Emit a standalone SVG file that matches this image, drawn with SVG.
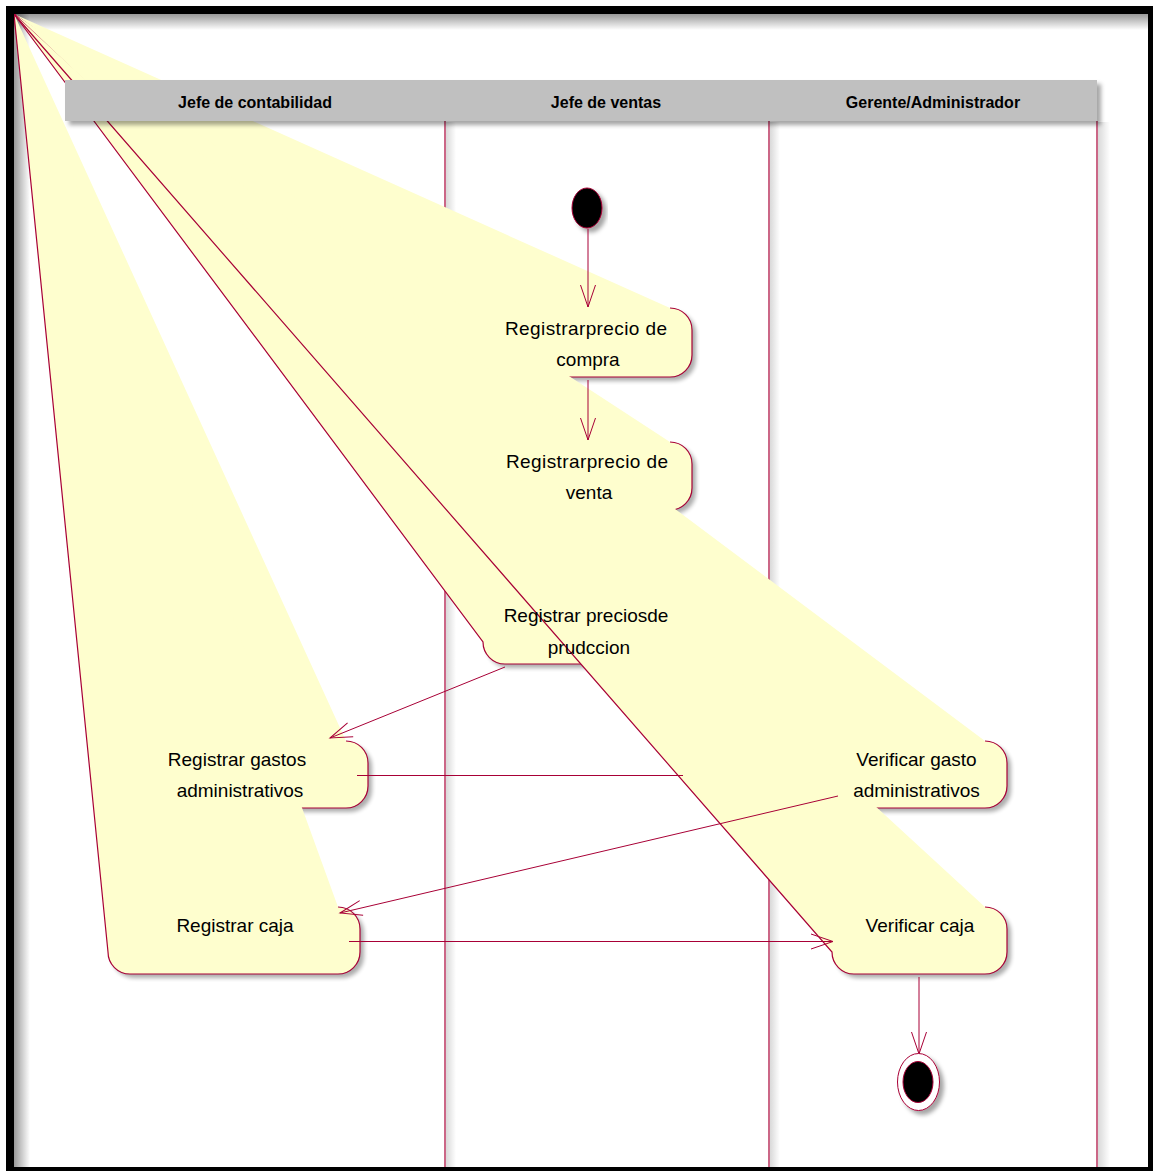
<svg xmlns="http://www.w3.org/2000/svg" width="1153" height="1171" viewBox="0 0 1153 1171">
  <defs>
    <style>
      .act { fill: #FEFECE; stroke: none; }
      .shade { fill: #000; opacity: 0.32; filter: url(#blur); }
      .edge { fill: none; stroke: #A80036; stroke-width: 1.2; }
      .lane { stroke: #A80036; stroke-width: 1.2; }
      .link { fill: none; stroke: #A80036; stroke-width: 1; }
      .label { font-family: "Liberation Sans", Arial, sans-serif; font-size: 19px; fill: #000; text-anchor: middle; }
      .head { font-family: "Liberation Sans", Arial, sans-serif; font-size: 16px; font-weight: bold; fill: #000; text-anchor: middle; }
    </style>
    <filter id="blur" x="-10%" y="-10%" width="120%" height="120%">
      <feGaussianBlur stdDeviation="2"/>
    </filter>
    <filter id="shadow" x="-10%" y="-10%" width="130%" height="140%">
      <feGaussianBlur in="SourceAlpha" stdDeviation="2"/>
      <feOffset dx="4" dy="4" result="off"/>
      <feFlood flood-color="#000" flood-opacity="0.35"/>
      <feComposite in2="off" operator="in"/>
      <feMerge>
        <feMergeNode/>
        <feMergeNode in="SourceGraphic"/>
      </feMerge>
    </filter>
    <linearGradient id="fadeRight" x1="0" y1="0" x2="1" y2="0">
      <stop offset="0" stop-color="#000" stop-opacity="0.4"/>
      <stop offset="1" stop-color="#000" stop-opacity="0"/>
    </linearGradient>
    <linearGradient id="fadeDown" x1="0" y1="0" x2="0" y2="1">
      <stop offset="0" stop-color="#000" stop-opacity="0.4"/>
      <stop offset="1" stop-color="#000" stop-opacity="0"/>
    </linearGradient>
    <linearGradient id="laneShade" x1="0" y1="0" x2="1" y2="0">
      <stop offset="0" stop-color="#000" stop-opacity="0.15"/>
      <stop offset="1" stop-color="#000" stop-opacity="0"/>
    </linearGradient>
    <marker id="arrow" markerUnits="userSpaceOnUse" markerWidth="26" markerHeight="18" viewBox="-24 -9 26 18" refX="0" refY="0" orient="auto">
      <path d="M-22,-7.5 L0,0 L-22,7.5" fill="none" stroke="#A80036" stroke-width="1"/>
    </marker>
  </defs>

  <rect width="1153" height="1171" fill="#fff"/>

  <!-- inner shading of the frame -->
  <rect x="14" y="14" width="16" height="1153" fill="url(#fadeRight)"/>
  <rect x="14" y="14" width="1134" height="16" fill="url(#fadeDown)"/>

  <!-- lane separators -->
  <g id="lane-lines">
    <rect x="446" y="122" width="10" height="1045" fill="url(#laneShade)"/>
    <rect x="770" y="122" width="10" height="1045" fill="url(#laneShade)"/>
    <rect x="1098" y="122" width="12" height="1045" fill="url(#laneShade)"/>
    <line class="lane" x1="445" y1="121" x2="445" y2="1167"/>
    <line class="lane" x1="769" y1="121" x2="769" y2="1167"/>
    <line class="lane" x1="1097" y1="121" x2="1097" y2="1167"/>
  </g>

  <!-- initial state -->
  <g id="start">
    <ellipse cx="587" cy="208" rx="15" ry="20" fill="#000" stroke="#A80036" stroke-width="1" filter="url(#shadow)"/>
  </g>

  <!-- activities: shadow, body, outline -->
  <g id="act-precio-compra">
    <path class="shade" transform="translate(4,4)" d="M670,308 A22,22 0 0 1 692,330 L692,355 A22,22 0 0 1 670,377 L504,377 A22,22 0 0 1 482,355 Z"/>
    <path class="act" d="M14,14 L670,308 A22,22 0 0 1 692,330 L692,355 A22,22 0 0 1 670,377 L504,377 A22,22 0 0 1 482,355 Z"/>
    <path class="edge" d="M14,14 L482,355 A22,22 0 0 0 504,377 L670,377 A22,22 0 0 0 692,355 L692,330 A22,22 0 0 0 670,308"/>
  </g>
  <g id="act-precio-venta">
    <path class="shade" transform="translate(4,4)" d="M670,442 A22,22 0 0 1 692,464 L692,488 A22,22 0 0 1 670,510 L504,510 A22,22 0 0 1 482,488 Z"/>
    <path class="act" d="M14,14 L670,442 A22,22 0 0 1 692,464 L692,488 A22,22 0 0 1 670,510 L504,510 A22,22 0 0 1 482,488 Z"/>
    <path class="edge" d="M14,14 L482,488 A22,22 0 0 0 504,510 L670,510 A22,22 0 0 0 692,488 L692,464 A22,22 0 0 0 670,442"/>
  </g>
  <g id="act-precios-produccion">
    <path class="shade" transform="translate(4,4)" d="M670,596 A22,22 0 0 1 692,618 L692,642 A22,22 0 0 1 670,664 L505,664 A22,22 0 0 1 483,642 Z"/>
    <path class="act" d="M14,14 L670,596 A22,22 0 0 1 692,618 L692,642 A22,22 0 0 1 670,664 L505,664 A22,22 0 0 1 483,642 Z"/>
    <path class="edge" d="M14,14 L483,642 A22,22 0 0 0 505,664 L670,664 A22,22 0 0 0 692,642 L692,618 A22,22 0 0 0 670,596"/>
  </g>
  <g id="act-gastos-admin">
    <path class="shade" transform="translate(4,4)" d="M346,741 A22,22 0 0 1 368,763 L368,786 A22,22 0 0 1 346,808 L130,808 A22,22 0 0 1 108,786 Z"/>
    <path class="act" d="M14,14 L346,741 A22,22 0 0 1 368,763 L368,786 A22,22 0 0 1 346,808 L130,808 A22,22 0 0 1 108,786 Z"/>
    <path class="edge" d="M14,14 L108,786 A22,22 0 0 0 130,808 L346,808 A22,22 0 0 0 368,786 L368,763 A22,22 0 0 0 346,741"/>
  </g>
  <g id="act-verificar-gasto">
    <path class="shade" transform="translate(4,4)" d="M985,741 A22,22 0 0 1 1007,763 L1007,786 A22,22 0 0 1 985,808 L852,808 A22,22 0 0 1 830,786 Z"/>
    <path class="act" d="M14,14 L985,741 A22,22 0 0 1 1007,763 L1007,786 A22,22 0 0 1 985,808 L852,808 A22,22 0 0 1 830,786 Z"/>
    <path class="edge" d="M14,14 L830,786 A22,22 0 0 0 852,808 L985,808 A22,22 0 0 0 1007,786 L1007,763 A22,22 0 0 0 985,741"/>
  </g>
  <g id="act-registrar-caja">
    <path class="shade" transform="translate(4,4)" d="M338,907 A22,22 0 0 1 360,929 L360,952 A22,22 0 0 1 338,974 L130,974 A22,22 0 0 1 108,952 Z"/>
    <path class="act" d="M14,14 L338,907 A22,22 0 0 1 360,929 L360,952 A22,22 0 0 1 338,974 L130,974 A22,22 0 0 1 108,952 Z"/>
    <path class="edge" d="M14,14 L108,952 A22,22 0 0 0 130,974 L338,974 A22,22 0 0 0 360,952 L360,929 A22,22 0 0 0 338,907"/>
  </g>
  <g id="act-verificar-caja">
    <path class="shade" transform="translate(4,4)" d="M985,907 A22,22 0 0 1 1007,929 L1007,952 A22,22 0 0 1 985,974 L854,974 A22,22 0 0 1 832,952 Z"/>
    <path class="act" d="M14,14 L985,907 A22,22 0 0 1 1007,929 L1007,952 A22,22 0 0 1 985,974 L854,974 A22,22 0 0 1 832,952 Z"/>
    <path class="edge" d="M14,14 L832,952 A22,22 0 0 0 854,974 L985,974 A22,22 0 0 0 1007,952 L1007,929 A22,22 0 0 0 985,907"/>
  </g>

  <!-- transitions -->
  <g id="connectors">
    <line class="link" x1="588" y1="229" x2="588" y2="307" marker-end="url(#arrow)"/>
    <line class="link" x1="588" y1="380" x2="588" y2="440" marker-end="url(#arrow)"/>
    <line class="link" x1="505" y1="667" x2="330" y2="738" marker-end="url(#arrow)"/>
    <line class="link" x1="357" y1="775.5" x2="683" y2="775.5"/>
    <line class="link" x1="838" y1="796" x2="340" y2="913" marker-end="url(#arrow)"/>
    <line class="link" x1="349" y1="941.5" x2="833" y2="941.5" marker-end="url(#arrow)"/>
    <line class="link" x1="919" y1="977" x2="919" y2="1054" marker-end="url(#arrow)"/>
  </g>

  <!-- lane headers -->
  <g id="lane-header">
    <rect x="65" y="80" width="1032" height="41" fill="#C0C0C0" filter="url(#shadow)"/>
    <text class="head" x="255" y="108">Jefe de contabilidad</text>
    <text class="head" x="606" y="108">Jefe de ventas</text>
    <text class="head" x="933" y="108">Gerente/Administrador</text>
  </g>

  <!-- activity labels -->
  <g id="labels">
    <text class="label" x="586" y="335" textLength="162" lengthAdjust="spacing">Registrarprecio de</text>
    <text class="label" x="588" y="366">compra</text>
    <text class="label" x="587" y="468" textLength="162" lengthAdjust="spacing">Registrarprecio de</text>
    <text class="label" x="589" y="499">venta</text>
    <text class="label" x="586" y="622">Registrar preciosde</text>
    <text class="label" x="589" y="654">prudccion</text>
    <text class="label" x="237" y="766">Registrar gastos</text>
    <text class="label" x="240" y="797">administrativos</text>
    <text class="label" x="235" y="932">Registrar caja</text>
    <text class="label" x="916.5" y="766">Verificar gasto</text>
    <text class="label" x="916.5" y="797">administrativos</text>
    <text class="label" x="920" y="932">Verificar caja</text>
  </g>

  <!-- final state -->
  <g id="end">
    <ellipse cx="918.5" cy="1082" rx="21" ry="28.5" fill="#fff" stroke="#A80036" stroke-width="1" filter="url(#shadow)"/>
    <ellipse cx="918" cy="1082" rx="15" ry="20.5" fill="#000" stroke="#A80036" stroke-width="1"/>
  </g>

  <!-- frame -->
  <rect x="10" y="10" width="1142" height="1161" fill="none" stroke="#000" stroke-width="8"/>
</svg>
